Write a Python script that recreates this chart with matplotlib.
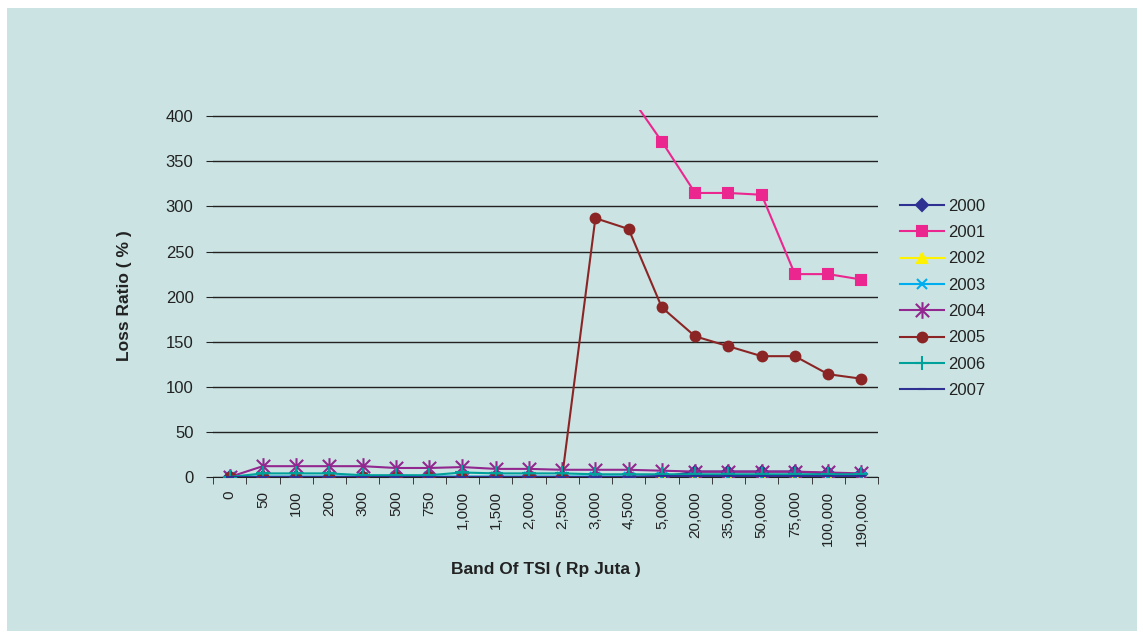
import numpy as np
import matplotlib.pyplot as plt
from matplotlib.patches import Rectangle
from matplotlib.path import Path

plt.rcParams['font.family'] = ['Liberation Sans', 'DejaVu Sans']

bands = ['0', '50', '100', '200', '300', '500', '750', '1,000', '1,500', '2,000',
         '2,500', '3,000', '4,500', '5,000', '20,000', '35,000', '50,000',
         '75,000', '100,000', '190,000']

nan = np.nan
y2000 = [0, 0, 0, 0, 0, 0, 0, 0, 0, 0, 0, 0, 0, 0, 6, 6, 6, 6, 4, 3]
y2001 = [nan, nan, nan, nan, nan, nan, nan, nan, nan, nan, nan, nan, 425, 372, 315, 315, 313, 225, 225, 219]
y2002 = [0] * 20
y2003 = [0, 0.5, 0.5, 0.5, 0.5, 0.5, 0.5, 0.5, 0.5, 0.5, 0.5, 0.5, 0.5, 0.5, 0.5, 0.5, 0.5, 0.5, 0.5, 0.5]
y2004 = [0, 12, 12, 12, 12, 10, 10, 11, 9, 9, 8, 8, 8, 7, 6, 6, 6, 6, 5, 4]
y2005 = [0, 0, 0, 0, 0, 0, 0, 0, 0, 0, 0, 287, 275, 188, 156, 145, 134, 134, 114, 109]
y2006 = [0, 4, 4, 4, 2, 2, 2, 5, 4, 4, 4, 3, 3, 3, 3, 3, 3, 3, 3, 3]
y2007 = [0, 0, 0, 0, 0, 0, 0, 0, 0, 0, 0, 0, 0, 1, 1, 1, 1, 1, 1, 1]

# Excel-style asterisk: an x with a vertical stroke
star = Path([(0, -1), (0, 1), (-0.8, -0.8), (0.8, 0.8), (-0.8, 0.8), (0.8, -0.8)],
            [Path.MOVETO, Path.LINETO, Path.MOVETO, Path.LINETO, Path.MOVETO, Path.LINETO])

series = [
    ('2000', y2000, '#2E3192', 'D', 6.5),
    ('2001', y2001, '#EC268F', 's', 7.5),
    ('2002', y2002, '#FFF200', '^', 7.5),
    ('2003', y2003, '#00AEEF', 'x', 7.5),
    ('2004', y2004, '#92278F', star, 12),
    ('2005', y2005, '#8B2525', 'o', 7),
    ('2006', y2006, '#00A19A', '+', 10),
    ('2007', y2007, '#2E3192', '_', 6),
]

fig = plt.figure(figsize=(11.43, 6.41), dpi=100)
fig.patch.set_facecolor('white')
bg = Rectangle((7 / 1143, 10 / 641), 1130 / 1143, 623 / 641,
               transform=fig.transFigure, facecolor='#CBE4E3',
               edgecolor='none', zorder=-10)
fig.add_artist(bg)

ax = fig.add_axes([213 / 1143, 164 / 641, 665 / 1143, 367 / 641])
ax.set_facecolor('none')

x = np.arange(len(bands))
for name, vals, col, mk, ms in series:
    ax.plot(x, vals, color=col, marker=mk, markersize=ms, lw=1.5,
            markeredgecolor=col, markeredgewidth=1.5, label=name, zorder=3)

ax.set_xlim(-0.5, len(bands) - 0.5)
ax.set_ylim(0, 407)
ax.set_yticks(np.arange(0, 401, 50))
ax.yaxis.grid(True, color='#222222', lw=1)
ax.set_axisbelow(True)

ax.set_xticks(x)
ax.set_xticklabels(bands, rotation=90, fontsize=11, color='#222222')
ax.set_xticks(np.arange(-0.5, len(bands), 1), minor=True)
ax.tick_params(axis='x', which='major', length=0, pad=10)
ax.tick_params(axis='x', which='minor', length=5, color='#222222', direction='out')
ax.tick_params(axis='y', length=5, color='#222222', labelsize=12, labelcolor='#222222', pad=9)

for s in ['left', 'top', 'right']:
    ax.spines[s].set_visible(False)
ax.spines['bottom'].set_color('#222222')

ax.set_xlabel('Band Of TSI ( Rp Juta )', fontsize=12.5, fontweight='bold', color='#222222')
ax.set_ylabel('Loss Ratio ( % )', fontsize=12.5, fontweight='bold', color='#222222')
ax.xaxis.set_label_coords(0.5, -0.2316)
ax.yaxis.set_label_coords(-0.122, 0.493)

ax.legend(loc='upper left', bbox_to_anchor=(1.016, 0.79), frameon=False,
          fontsize=12, handlelength=2.6, labelspacing=0.68, handletextpad=0.25,
          borderaxespad=0.3, labelcolor='#222222')

fig.savefig('out.png', dpi=100)
